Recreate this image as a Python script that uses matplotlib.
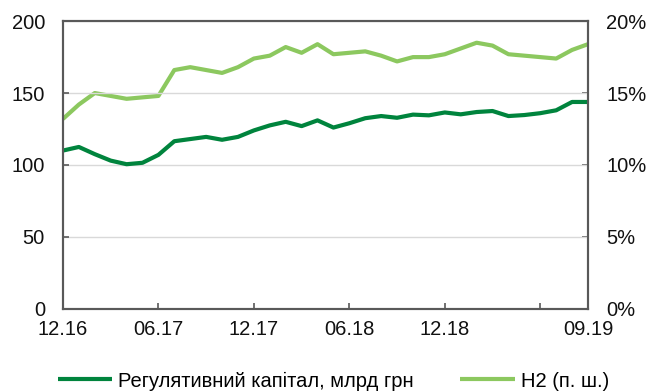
import numpy as np
import matplotlib
matplotlib.use("Agg")
import matplotlib.pyplot as plt

plt.rcParams['font.family'] = ['Liberation Sans', 'DejaVu Sans']
plt.rcParams['font.size'] = 14.5

# monthly data, 12.2016 - 09.2019
capital = [110, 112.5, 107.5, 103, 100.5, 101.5, 107, 116.5, 118, 119.5, 117.5,
           119.5, 124, 127.5, 130, 127, 131, 126, 129, 132.5, 134, 132.8,
           135, 134.5, 136.5, 135.2, 136.8, 137.5, 134, 134.7, 136, 138,
           143.8, 143.8]
n2 = [13.2, 14.2, 15.0, 14.8, 14.6, 14.7, 14.8, 16.6, 16.8, 16.6, 16.4,
      16.8, 17.4, 17.6, 18.2, 17.8, 18.4, 17.7, 17.8, 17.9, 17.6, 17.2,
      17.5, 17.5, 17.7, 18.1, 18.5, 18.3, 17.7, 17.6, 17.5, 17.4,
      18.0, 18.4]
tick_pos = [0, 6, 12, 18, 24, 30, 33]
tick_labels = ['12.16', '06.17', '12.17', '06.18', '12.18', '', '09.19']

DARK = '#00843D'
LIGHT = '#8CC85F'
SPINE = '#595959'

x = np.arange(len(capital))

fig = plt.figure(figsize=(6.49, 3.92), dpi=100)
ax = fig.add_axes([0.097, 0.2125, 0.809, 0.7335])
ax2 = ax.twinx()

ax.set_zorder(ax2.get_zorder() + 1)
ax.patch.set_visible(False)

l1, = ax.plot(x, capital, color=DARK, lw=3, solid_capstyle='butt',
              label='Регулятивний капітал, млрд грн')
l2, = ax2.plot(x, n2, color=LIGHT, lw=3, solid_capstyle='butt',
               label='Н2 (п. ш.)')

ax.set_xlim(0, len(capital) - 1)
ax.set_ylim(0, 200)
ax.set_yticks([0, 50, 100, 150, 200])
ax2.set_ylim(0, 20)
ax2.set_yticks([0, 5, 10, 15, 20])
ax2.set_yticklabels([f'{v}%' for v in [0, 5, 10, 15, 20]])
ax.set_xticks(tick_pos)
ax.set_xticklabels(tick_labels)

ax.grid(axis='y', color='#D9D9D9', lw=1)
ax.set_axisbelow(True)

for a in (ax, ax2):
    for s in a.spines.values():
        s.set_color(SPINE)
        s.set_linewidth(1.5)
    a.tick_params(direction='in', length=4, width=1.2, color=SPINE,
                  labelcolor='#111111')
ax.tick_params(axis='y', pad=13)
ax.tick_params(axis='x', pad=8)
ax2.tick_params(axis='y', pad=13)

fig.legend(handles=[l1, l2], loc='center left',
           bbox_to_anchor=(58 / 649, 1 - 381 / 392), ncol=2, frameon=False,
           borderpad=0, borderaxespad=0, handlelength=2.7, handletextpad=0.3,
           columnspacing=2.3, fontsize=14.5)

fig.savefig('out.png', dpi=100)
